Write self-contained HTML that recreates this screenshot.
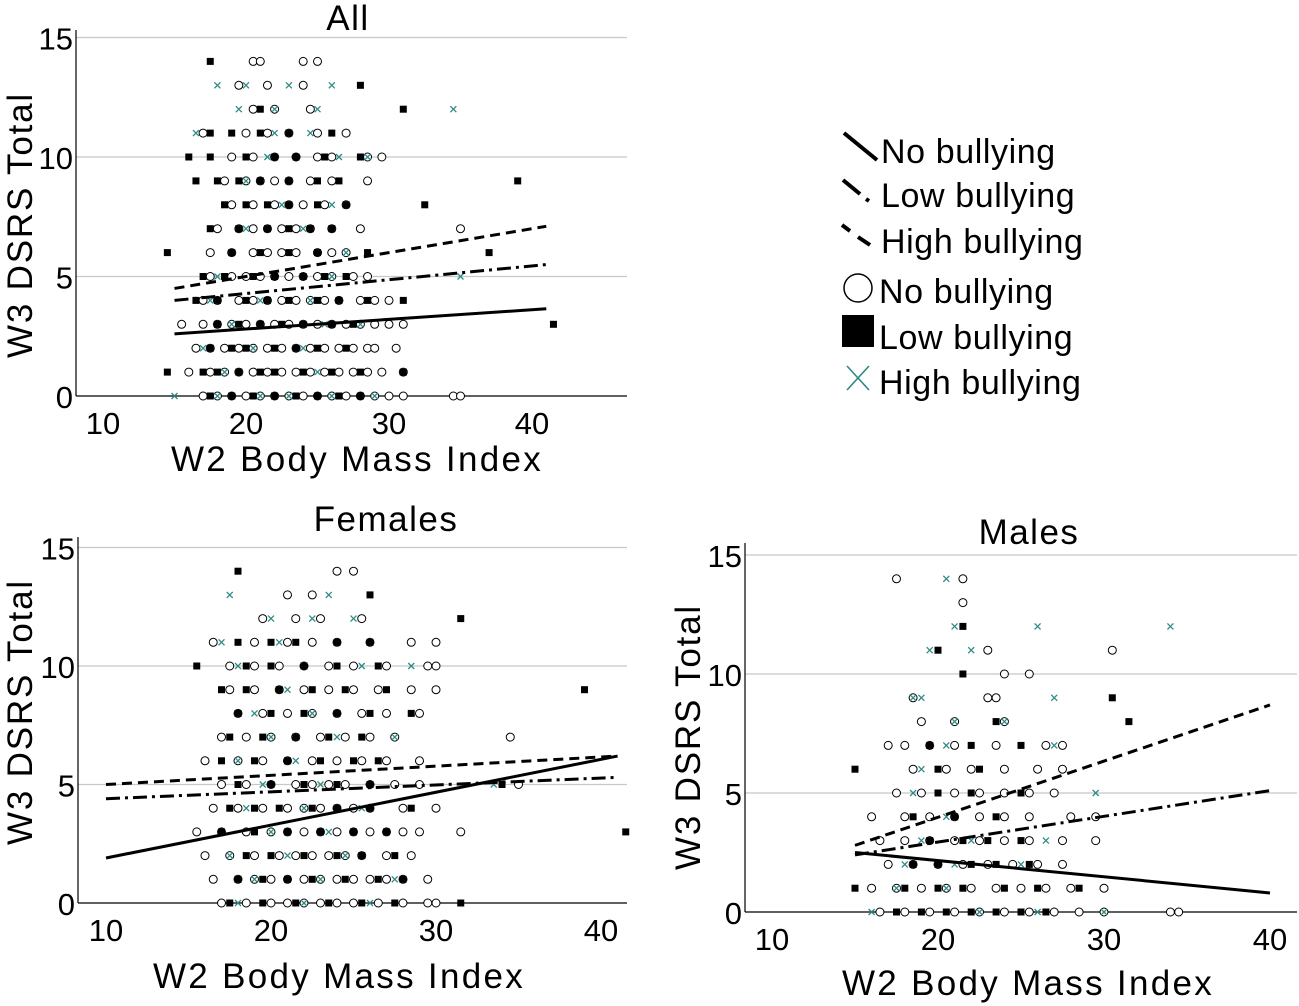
<!DOCTYPE html>
<html><head><meta charset="utf-8"><style>
html,body{margin:0;padding:0;background:#fff;width:1299px;height:1006px;overflow:hidden}
svg{display:block;font-family:"Liberation Sans",sans-serif}
</style></head><body>
<svg id="chart" width="1299" height="1006" viewBox="0 0 1299 1006">
<g id="legend" font-size="34" fill="#000" letter-spacing="0.6">
 <g><line x1="844" y1="133" x2="877" y2="160" stroke="#000" stroke-width="4"/><text x="881" y="163">No bullying</text></g>
 <g><line x1="843" y1="180" x2="860" y2="194" stroke="#000" stroke-width="4"/><line x1="866" y1="199" x2="869" y2="201" stroke="#000" stroke-width="4"/><text x="881" y="207">Low bullying</text></g>
 <g><line x1="842" y1="225" x2="850" y2="231" stroke="#000" stroke-width="4"/><line x1="858" y1="237" x2="870" y2="245" stroke="#000" stroke-width="4"/><text x="881" y="253">High bullying</text></g>
 <g><circle cx="858" cy="288" r="14" fill="none" stroke="#000" stroke-width="1.5"/><text x="879" y="303">No bullying</text></g>
 <g><rect x="842" y="315" width="32" height="32" fill="#000"/><text x="879" y="349">Low bullying</text></g>
 <g><line x1="847" y1="366" x2="869" y2="390" stroke="#2f8a86" stroke-width="1.6"/><line x1="869" y1="366" x2="847" y2="390" stroke="#2f8a86" stroke-width="1.6"/><text x="879" y="394">High bullying</text></g>
</g>
</svg>
<script>
const xTicks=[10,20,30,40];
const yTicks=[0,5,10,15];
const allCircles=[[0,17,18,19,20,21,22,23,24,25,26,27,28,29,30,31,34.5,35],[1,16,17.5,18.5,19.5,20.5,21.5,22.5,23.5,24.5,25.5,26.5,27.5,28.5,29.5,31],[2,16.5,17.5,18.5,19.5,20.5,21.5,22.5,23.5,24.5,25.5,26.5,27.5,28.5,29,30.5],[3,15.5,17,18,19,20,21,22,23,24,25,26,27,28,29,30,31],[4,17,18,19.5,20.5,21.5,22.5,23.5,24.5,25.5,26.5,28,29,30],[5,17.5,19,20,21,22,23,24,25,26,27.5,28.5],[6,17.5,19,20.5,21.5,22.5,23.5,25,26,27],[7,18,19.5,20.5,21.5,22.5,23.5,24.5,26,28,35],[8,19,20.5,22,23,24,25.5,27],[9,18.5,20,21,22,23,24.5,26,28.5],[10,19,20.5,22,23.5,25,26,28.5,29.5],[11,17,20,21.5,23,25,27],[12,20.5,22,24.5],[13,19.5,21.5,24],[14,20.5,21,24,25]];
const allSquares=[[0,17.5,19,20.5,22,23.5,25,26.5,28],[1,14.5,17,18,19.5,21,22,24,26,28,31],[2,17.5,19,20,22,23.5,25,27],[3,18,19.5,21,22.5,24,26,27.5,41.5],[4,16.5,18,20,21.5,23,25,26.5,28.5,31],[5,17,18.5,20.5,22,24,25.5,27],[6,14.5,19,21,23,25,28.5,37],[7,17.5,19.5,21.5,23,24.5,26],[8,18.5,20,21.5,23,25,27,32.5],[9,16.5,18,19.5,21,23,25,26.5,39],[10,16,17.5,20,22,23.5,25.5,28],[11,17.5,19,21,23,26],[12,21,31],[13,28],[14,17.5]];
const allCrosses=[[0,15,18,21,23,26,29],[1,18.5,22,25,28],[2,17,20.5,24,27],[3,19,22.5,25.5,28],[4,17.5,21,24.5],[5,18,22,26,35],[6,19,23,27],[7,20,24],[8,18.5,22.5,26],[9,20,25],[10,17.5,21.5,26.5,28.5],[11,16.5,19,22,24.5],[12,19.5,22,25,34.5],[13,18,20,23,26]];
const femCircles=[[0,17,18.5,20,21,22,23,24,25,26.5,28,29.5,30],[1,16.5,18,19,20,21,22,23,24,25,26,27,28,29.5],[2,16,17.5,19,20.5,21.5,22.5,23.5,24.5,25.5,27,28.5],[3,15.5,17,18.5,20,21,22,23,24,25,26,27,28,29,31.5],[4,16.5,18,19.5,21,22,23,24,25,26,28,30],[5,17,18.5,20,21.5,22.5,23.5,24.5,26,27.5,29,35],[6,16,18,19.5,21,22.5,24,25.5,27,29],[7,17,18.5,20,21.5,23,24.5,26,27.5,34.5],[8,18,19.5,21,22.5,24,25.5,27,29],[9,17.5,19,20.5,22,23.5,25,26.5,28.5,30],[10,17.5,19,20.5,22,23.5,25,27,29.5,30],[11,16.5,19,21,22.5,24,26,28.5,30],[12,19.5,21.5,23,25.5],[13,21,22.5],[14,24,25]];
const femSquares=[[0,17.5,19.5,21.5,23.5,25.5,27.5,31.5],[1,18,19.5,21,22.5,24.5,26.5,28],[2,18.5,20,22,24,25.5,27.5],[3,17,19,21,23,25,27,41.5],[4,17.5,19,20.5,22.5,24,26,28.5],[5,18,20,22,24,26,34],[6,17,19,21,23,25,26.5],[7,17.5,19.5,21.5,23.5,25.5],[8,18,20,22,24,26,28.5],[9,17,18.5,20.5,22.5,24.5,27,39],[10,15.5,18.5,20,22,24,26.5],[11,18,20,21.5,24,26],[12,31.5],[13,26],[14,18]];
const femCrosses=[[0,18,22,26],[1,19,23,27.5],[2,17.5,21,24.5],[3,20,23.5,27],[4,18.5,22,25.5],[5,19.5,23,33.5],[6,18,21.5,25],[7,20,24,27.5],[8,19,22.5],[9,21,24.5],[10,18,22,25.5,28.5],[11,17,20.5,24],[12,20,22.5,25],[13,17.5,23.5]];
const malCircles=[[0,16.5,18,19.5,21,22.5,24,25.5,27,28.5,30,34,34.5],[1,16,17.5,19,20.5,22,23.5,25,26.5,28,30],[2,17,18.5,20,21.5,23,24.5,26,27.5],[3,16.5,18,19.5,21,22.5,24,25.5,27.5,29.5],[4,16,18,19.5,21,22.5,24,25.5,28,29.5],[5,17.5,19,21,22.5,24,25.5,27],[6,18.5,20.5,22,24,26,27.5],[7,17,18,19.5,21,23.5,26.5,27.5],[8,19,21,24],[9,18.5,23,23.5],[10,24,25.5],[11,23,30.5],[13,21.5],[14,17.5,21.5]];
const malSquares=[[0,17.5,19,20.5,22,23.5,25,26.5],[1,15,18,20,21.5,24,26,28.5],[2,18.5,20,22,23.5,25.5],[3,19.5,21.5,23,25],[4,18.5,21,23.5],[5,20,22,25],[6,15,20,22.5],[7,19.5,22,25],[8,23.5,31.5],[9,30.5],[10,21.5],[11,20],[12,21.5]];
const malCrosses=[[0,16,19,22.5,26,30],[1,17.5,20.5,24],[2,18,21,25],[3,19,22,26.5],[4,20.5,23.5],[5,18.5,22,29.5],[6,19,22.5],[7,20.5,27],[8,21,24],[9,18.5,19,27],[11,19.5,22],[12,21,26,34],[14,20.5]];
const allNoLine=[15,2.6,41,3.65], allLowLine=[15,4.0,41,5.5], allHighLine=[15,4.5,41,7.1];
const femNoLine=[10,1.9,41,6.2], femLowLine=[10,4.4,41,5.3], femHighLine=[10,5.0,41,6.2];
const malNoLine=[15,2.5,40,0.8], malLowLine=[15,2.4,40,5.1], malHighLine=[15,2.8,40,8.7];

const NS='http://www.w3.org/2000/svg';
const svg=document.getElementById('chart');
function mk(tag,attrs,parent){const e=document.createElementNS(NS,tag);for(const k in attrs)e.setAttribute(k,attrs[k]);parent.appendChild(e);return e;}

function panel(p){
  const g=mk('g',{},svg);
  
  
  const sx=v=>p.x10+(v-10)*p.kx, sy=v=>p.y0-v*p.ky;
  yTicks.forEach(t=>{if(t>0){const l=mk('line',{x1:p.left,x2:p.right,y1:sy(t),y2:sy(t),stroke:'#c8c8c8','stroke-width':1.2},g);
    
    }});
  const ax=mk('line',{x1:p.left,x2:p.left,y1:p.top,y2:p.y0,stroke:'#000','stroke-width':1.2},g);
  
  
  const bx=mk('line',{x1:p.left,x2:p.right,y1:p.y0,y2:p.y0,stroke:'#000','stroke-width':1.2},g);
  
  
  xTicks.forEach(t=>{const e=mk('text',{x:sx(t),y:p.y0+38,'text-anchor':'middle','font-size':31},g);e.textContent=t;
    
    });
  yTicks.forEach(t=>{const e=mk('text',{x:p.left-3,y:sy(t)+12,'text-anchor':'end','font-size':31},g);e.textContent=t;
    
    });
  const ti=mk('text',{x:p.titleX,y:p.titleY,'text-anchor':'middle','font-size':35,'letter-spacing':1.5},g);ti.textContent=p.title;
  
  
  const xt=mk('text',{x:p.xtX,y:p.xtY,'text-anchor':'middle','font-size':35,'letter-spacing':2.3},g);xt.textContent='W2 Body Mass Index';
  
  
  const yt=mk('text',{x:0,y:0,'text-anchor':'middle','font-size':35,'letter-spacing':1.8,transform:'translate('+p.ytX+','+p.ytY+') rotate(-90)'},g);yt.textContent='W3 DSRS Total';
  
  
  p.circles.forEach(r=>r.slice(1).forEach(x=>{const c=mk('circle',{cx:sx(x),cy:sy(r[0]),r:4,fill:'#fff',stroke:'#000','stroke-width':1},g);
    
    }));
  p.crosses.forEach(r=>r.slice(1).forEach(x=>{const cx=sx(x),cy=sy(r[0]);const c=mk('path',{d:`M${cx-3},${cy-3}L${cx+3},${cy+3}M${cx+3},${cy-3}L${cx-3},${cy+3}`,stroke:'#2f8a86','stroke-width':1.3},g);
    
    }));
  p.squares.forEach(r=>r.slice(1).forEach(x=>{const c=mk('rect',{x:sx(x)-3.5,y:sy(r[0])-3.5,width:7,height:7,fill:'#000'},g);
    
    }));
  [[p.no,'none','fit-line-no-bullying'],[p.low,'14,5,3,5','fit-line-low-bullying'],[p.high,'10,6','fit-line-high-bullying']].forEach(([L,d,n])=>{
    const l=mk('line',{x1:sx(L[0]),y1:sy(L[1]),x2:sx(L[2]),y2:sy(L[3]),stroke:'#000','stroke-width':3,'stroke-dasharray':d},g);
    
    });
}
panel({name:'all',title:'All',x10:103,kx:14.3,y0:396,ky:23.9,left:76,right:627,top:30,titleX:348,titleY:30,xtX:357,xtY:471,ytX:32,ytY:225,circles:allCircles,squares:allSquares,crosses:allCrosses,no:allNoLine,low:allLowLine,high:allHighLine});
panel({name:'females',title:'Females',x10:106,kx:16.5,y0:903,ky:23.7,left:78,right:627,top:537,titleX:386,titleY:531,xtX:339,xtY:988,ytX:32,ytY:712,circles:femCircles,squares:femSquares,crosses:femCrosses,no:femNoLine,low:femLowLine,high:femHighLine});
panel({name:'males',title:'Males',x10:772,kx:16.6,y0:912,ky:23.8,left:745,right:1297,top:543,titleX:1029,titleY:544,xtX:1028,xtY:995,ytX:700,ytY:737,circles:malCircles,squares:malSquares,crosses:malCrosses,no:malNoLine,low:malLowLine,high:malHighLine});
</script>
</body></html>
